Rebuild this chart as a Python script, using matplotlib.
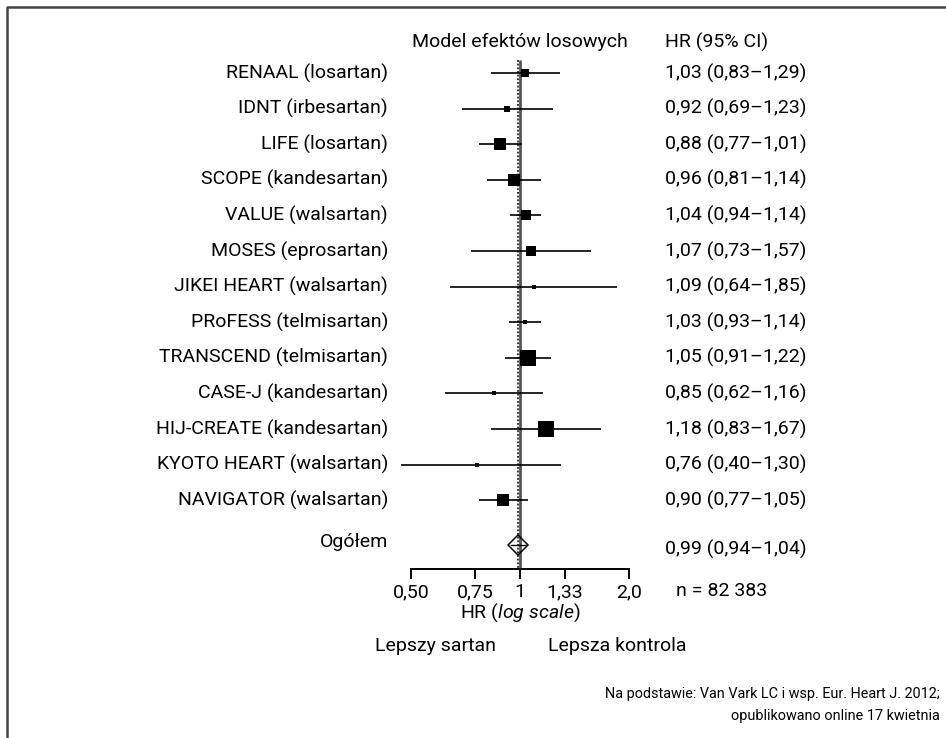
import matplotlib
matplotlib.use("Agg")
import matplotlib.pyplot as plt
import numpy as np
from matplotlib.lines import Line2D
from matplotlib.transforms import blended_transform_factory

plt.rcParams["font.family"] = ["Roboto", "DejaVu Sans"]
plt.rcParams["mathtext.fontset"] = "custom"
plt.rcParams["mathtext.it"] = "Roboto:italic"
plt.rcParams["mathtext.rm"] = "Roboto"

# data
studies = [
    "RENAAL (losartan)", "IDNT (irbesartan)", "LIFE (losartan)",
    "SCOPE (kandesartan)", "VALUE (walsartan)", "MOSES (eprosartan)",
    "JIKEI HEART (walsartan)", "PRoFESS (telmisartan)",
    "TRANSCEND (telmisartan)", "CASE-J (kandesartan)",
    "HIJ-CREATE (kandesartan)", "KYOTO HEART (walsartan)",
    "NAVIGATOR (walsartan)",
]
hr = [1.03, 0.92, 0.88, 0.96, 1.04, 1.07, 1.09, 1.03, 1.05, 0.85, 1.18, 0.76, 0.90]
ci_low = [0.83, 0.69, 0.77, 0.81, 0.94, 0.73, 0.64, 0.93, 0.91, 0.62, 0.83, 0.40, 0.77]
ci_high = [1.29, 1.23, 1.01, 1.14, 1.14, 1.57, 1.85, 1.14, 1.22, 1.16, 1.67, 1.30, 1.05]
weights = [5.2, 2.9, 11.7, 11.7, 6.6, 6.6, 2.0, 2.0, 18.2, 1.6, 18.2, 1.6, 11.7]

overall_label = "Ogółem"
overall_hr, overall_low, overall_high = 0.99, 0.94, 1.04
n_total = "n = 82 383"
ticks = [0.5, 0.75, 1.0, 1.33, 2.0]
tick_labels = ["0,50", "0,75", "1", "1,33", "2,0"]

W, H = 946, 738


def fx(x):
    return x / W


def fy(y):
    return 1 - y / H


def fmt(v):
    return f"{v:.2f}".replace(".", ",")


fig = plt.figure(figsize=(W / 100, H / 100), dpi=100)
fs = 14

# axes: x=0.5 at px 411, x=2 at px 629 (log2 scale); whiskers clipped on the left
left_px, right_px = 401, 670
ax = fig.add_axes([fx(left_px), fy(569), (right_px - left_px) / W, 569 / H])
ax.set_xscale("log", base=2)
ppu = (629 - 411) / 2
ax.set_xlim(2 ** ((left_px - 520) / ppu), 2 ** ((right_px - 520) / ppu))

row_h = 35.6
y0 = 73
ax.set_ylim((569 - y0) / row_h, -y0 / row_h)
ax.patch.set_visible(False)

ypos = np.arange(len(studies))
y_overall = (545 - y0) / row_h
y_top = (60 - y0) / row_h
y_bot = ax.get_ylim()[0]

ax.vlines(1.0, y_top, y_bot, color="#555555", lw=2.0, zorder=1)
ax.vlines(overall_hr, y_top, y_bot, color="black", lw=1.1,
          linestyles=(0, (1.2, 1.2)), zorder=2)

ax.hlines(ypos, ci_low, ci_high, color="black", lw=1.2, zorder=3)
sizes = 3.52 * np.sqrt(weights) * 0.72
for y, h, s in zip(ypos, hr, sizes):
    ax.plot(h, y, marker="s", ms=s, color="black", mew=0, zorder=4)

ax.hlines(y_overall, overall_low, overall_high, color="black", lw=1.0, zorder=3)
ax.plot(overall_hr, y_overall, marker="D", ms=10.6, mfc="none", mec="black",
        mew=1.1, zorder=4)

for s in ["top", "right", "left"]:
    ax.spines[s].set_visible(False)
ax.spines["bottom"].set_bounds(ticks[0], ticks[-1])
ax.spines["bottom"].set_linewidth(1.4)
ax.set_yticks([])
ax.set_xticks(ticks)
ax.set_xticklabels(tick_labels, fontsize=fs)
ax.xaxis.set_minor_locator(matplotlib.ticker.NullLocator())
ax.tick_params(axis="x", direction="out", length=7, width=1.4, pad=3)

# row labels and HR text
tr = blended_transform_factory(fig.transFigure, ax.transData)
for y, name, h, lo, hi in zip(ypos, studies, hr, ci_low, ci_high):
    fig.text(fx(388), y, name, transform=tr, ha="right", va="center", fontsize=fs)
    fig.text(fx(665), y, f"{fmt(h)} ({fmt(lo)}–{fmt(hi)})", transform=tr,
             ha="left", va="center", fontsize=fs)
fig.text(fx(388), y_overall - 0.08, overall_label, transform=tr, ha="right",
         va="center", fontsize=fs)
fig.text(fx(665), y_overall + 0.12,
         f"{fmt(overall_hr)} ({fmt(overall_low)}–{fmt(overall_high)})",
         transform=tr, ha="left", va="center", fontsize=fs)

# headers
fig.text(fx(520), fy(42), "Model efektów losowych", ha="center", va="center", fontsize=fs)
fig.text(fx(665), fy(42), "HR (95% CI)", ha="left", va="center", fontsize=fs)

fig.text(fx(676), fy(591), n_total, ha="left", va="center", fontsize=fs)
fig.text(fx(520), fy(613), r"HR ($\it{log\ scale}$)", ha="center", va="center", fontsize=fs)
fig.text(fx(496), fy(646), "Lepszy sartan", ha="right", va="center", fontsize=fs)
fig.text(fx(548), fy(646), "Lepsza kontrola", ha="left", va="center", fontsize=fs)

fig.text(fx(940), fy(694), "Na podstawie: Van Vark LC i wsp. Eur. Heart J. 2012;",
         ha="right", va="center", fontsize=10.4)
fig.text(fx(940), fy(716), "opublikowano online 17 kwietnia",
         ha="right", va="center", fontsize=10.4)

# frame (only left and top edges visible)
fig.add_artist(Line2D([fx(7), fx(7), 1.0], [0.0, fy(7), fy(7)],
                      transform=fig.transFigure, color="#444444", lw=1.8))

fig.savefig("out.png", dpi=100)
